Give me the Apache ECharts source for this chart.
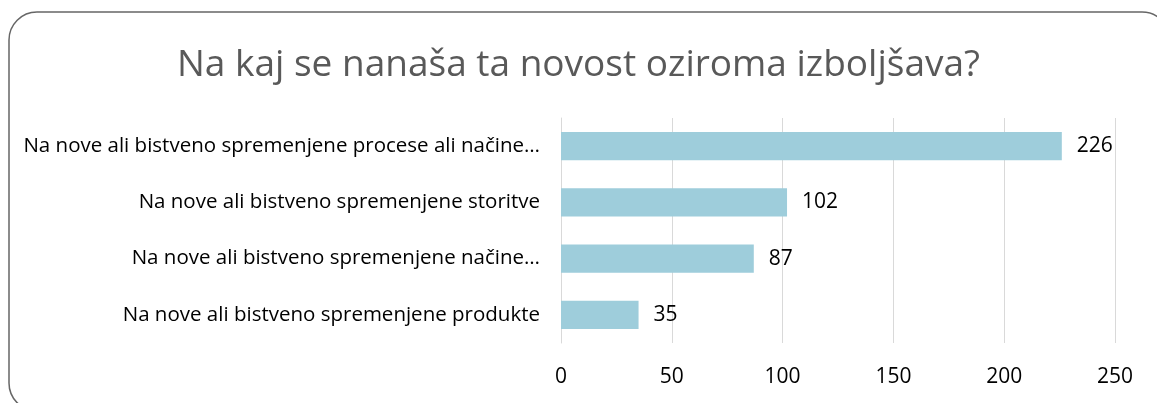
<!DOCTYPE html>
<html>
<head>
<meta charset="utf-8">
<script src="https://cdn.jsdelivr.net/npm/echarts@6/dist/echarts.min.js"></script>
<style>
  html, body { margin: 0; padding: 0; background: #fff; }
  #chart { width: 1157px; height: 403px; }
</style>
</head>
<body>
<div id="chart"></div>
<script>
// podatki
var categories = [
    'Na nove ali bistveno spremenjene produkte',
    'Na nove ali bistveno spremenjene načine…',
    'Na nove ali bistveno spremenjene storitve',
    'Na nove ali bistveno spremenjene procese ali načine…'
];
var values = [35, 87, 102, 226];
var xTicks = [0, 50, 100, 150, 200, 250];

var chart = echarts.init(document.getElementById('chart'));

var option = {
    backgroundColor: '#fff',
    textStyle: { fontFamily: 'Open Sans' },
    title: {
        text: 'Na kaj se nanaša ta novost oziroma izboljšava?',
        left: 'center',
        top: 42,
        textStyle: { fontSize: 37, fontWeight: 'normal', color: '#595959', fontFamily: 'Open Sans' }
    },
    graphic: [{
        type: 'rect',
        shape: { x: 9, y: 12, width: 1161, height: 399, r: 28 },
        style: { fill: 'none', stroke: '#666', lineWidth: 1.5 },
        silent: true
    }],
    grid: { left: 561, right: 42, top: 118, bottom: 60 },
    xAxis: {
        type: 'value',
        min: xTicks[0],
        max: xTicks[xTicks.length - 1],
        interval: 50,
        axisLine: { show: false },
        axisTick: { show: false },
        splitLine: { lineStyle: { color: '#d9d9d9', width: 1 } },
        axisLabel: { fontSize: 21, color: '#000', margin: 24 }
    },
    yAxis: {
        type: 'category',
        data: categories,
        axisLine: { show: true, lineStyle: { color: '#d9d9d9', width: 1 } },
        axisTick: { show: false },
        axisLabel: { fontSize: 20.5, color: '#000', margin: 21 }
    },
    series: [{
        type: 'bar',
        data: values,
        barCategoryGap: '50%',
        itemStyle: { color: '#9ecddb' },
        label: {
            show: true,
            position: 'right',
            distance: 15,
            fontSize: 21,
            color: '#000'
        }
    }]
};

chart.setOption(option);
</script>
</body>
</html>
